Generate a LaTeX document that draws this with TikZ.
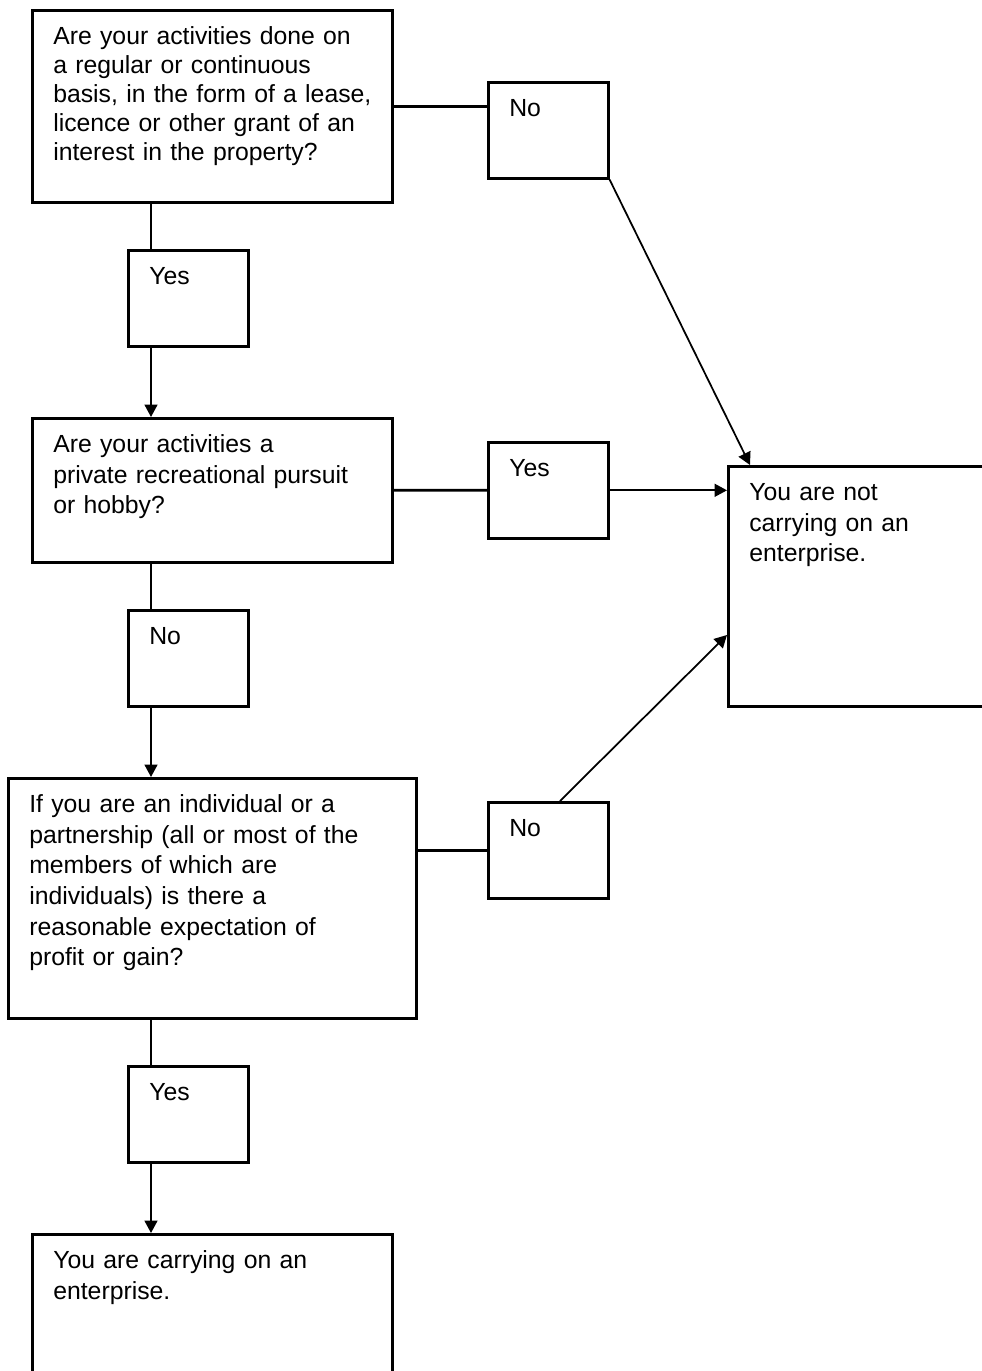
\documentclass[tikz,border=0pt]{standalone}
\usepackage{fontspec}
\setmainfont{Liberation Sans}
\usepackage{tikz}
\usetikzlibrary{positioning}
\usetikzlibrary{arrows.meta}

\begin{document}
\begin{tikzpicture}[x=0.02cm,y=-0.02cm,line width=1pt,
		>={Triangle[length=0.25cm,width=0.26cm]},
		box/.style={draw,line width=1.5pt,anchor=north west,align=left,inner xsep=0.42cm,inner ysep=0.3cm,text height=0.39cm,font=\fontsize{14.1pt}{17.4pt}\selectfont},
		ans/.style={box,text width=1.56cm,text depth=0.93cm},
		link/.style={line width=1.5pt}]
		\useasboundingbox (0,0) rectangle (982,1371);

		\node[box,text width=6.36cm,text depth=2.85cm,font=\fontsize{14.1pt}{16.5pt}\selectfont](A) at (31,9){Are your activities done on\\a regular or continuous\\\mbox{basis, in the form of a lease,}\\licence or other grant of an\\interest in the property?};
		\node[ans](B) at (487,81){No};
		\node[ans](C) at (127,249){Yes};

		\node[box,text width=6.36cm,text depth=1.89cm](D) at (31,417){Are your activities a\\private recreational pursuit\\or hobby?};
		\node[ans](E) at (487,441){Yes};
		\node[box,text width=5.16cm,text depth=3.81cm](F) at (727,465){You are not\\carrying on an\\enterprise.};
		\node[ans](G) at (127,609){No};

		\node[box,text width=7.32cm,text depth=3.81cm](H) at (7,777){If you are an individual or a\\partnership (all or most of the\\members of which are\\individuals) is there a\\reasonable expectation of\\profit or gain?};
		\node[ans](I) at (487,801){No};
		\node[ans](J) at (127,1065){Yes};

		\node[box,text width=6.36cm,text depth=2.85cm](K) at (31,1233){You are carrying on an\\enterprise.};

		\coordinate(col) at (151,0);

		\draw[link] (A.east) -- (A.east -| B.west);
		\draw[->] (B.south east) -- ([xshift=0.46cm]F.north west);
		\draw (A.south -| col) -- (C.north -| col);
		\draw[->] (C.south -| col) -- (D.north -| col);
		\draw[link] (D.east) -- (E.west);
		\draw[->] (E.east) -- (E.east -| F.west);
		\draw (D.south -| col) -- (G.north -| col);
		\draw[->] (G.south -| col) -- (H.north -| col);
		\draw[link] (H.east |- I.west) -- (I.west);
		\draw[->] ([xshift=1.46cm]I.north west) -- ([yshift=-3.4cm]F.north west);
		\draw (H.south -| col) -- (J.north -| col);
		\draw[->] (J.south -| col) -- (K.north -| col);
	\end{tikzpicture}
\end{document}
